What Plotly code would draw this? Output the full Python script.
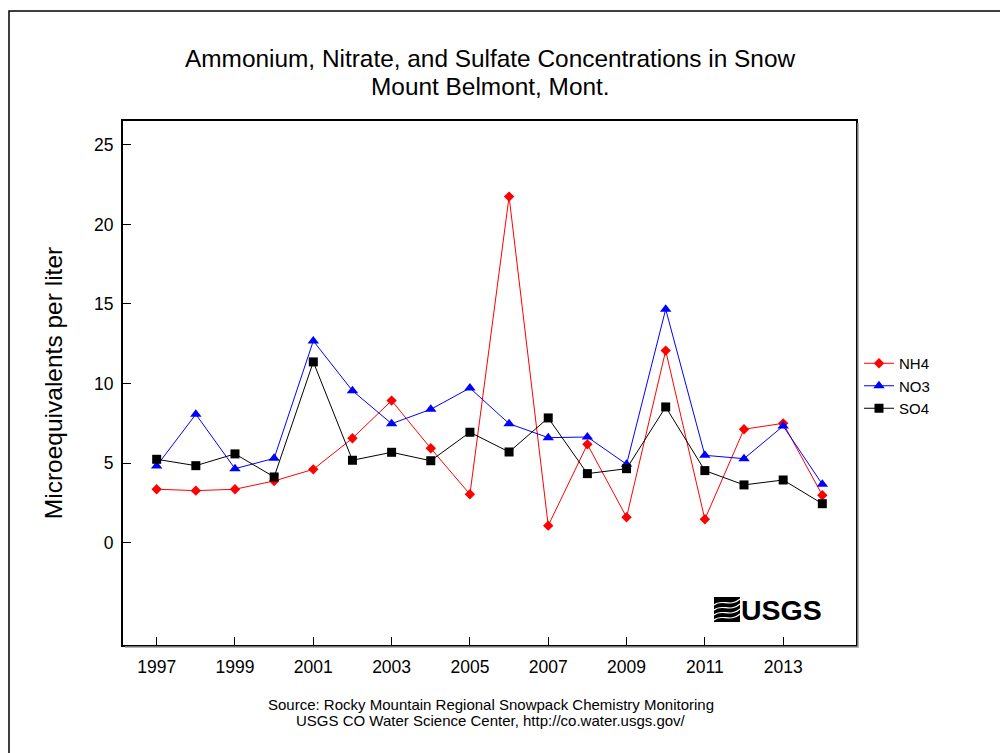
import plotly.graph_objects as go

# Annual snowpack concentrations, microequivalents per liter
years = list(range(1997, 2015))
nh4 = [3.36, 3.27, 3.36, 3.88, 4.61, 6.56, 8.93, 5.93, 3.04, 21.75,
       1.07, 6.18, 1.60, 12.07, 1.47, 7.13, 7.50, 2.98]
no3 = [4.82, 8.07, 4.65, 5.30, 12.68, 9.55, 7.48, 8.38, 9.72, 7.48,
       6.60, 6.64, 4.93, 14.67, 5.49, 5.28, 7.33, 3.67]
so4 = [5.24, 4.84, 5.58, 4.13, 11.36, 5.18, 5.68, 5.15, 6.94, 5.70,
       7.84, 4.34, 4.65, 8.53, 4.53, 3.63, 3.94, 2.45]

x_ticks = list(range(1997, 2015, 2))
y_ticks = [0, 5, 10, 15, 20, 25]

W, H = 1000, 753
L, R, T, B = 123, 856, 121, 645  # plot area in pixels

FONT = "Arial, Liberation Sans, sans-serif"


def px(xp):
    return (xp - L) / (R - L)


def py(yp):
    return (B - yp) / (B - T)


fig = go.Figure()
fig.add_trace(go.Scatter(x=years, y=nh4, name="NH4", mode="lines+markers",
                         line=dict(color="#ff0000", width=1),
                         marker=dict(symbol="diamond", size=8, color="#ff0000")))
fig.add_trace(go.Scatter(x=years, y=no3, name="NO3", mode="lines+markers",
                         line=dict(color="#0000ff", width=1),
                         marker=dict(symbol="triangle-up", size=10, color="#0000ff")))
fig.add_trace(go.Scatter(x=years, y=so4, name="SO4", mode="lines+markers",
                         line=dict(color="#000000", width=1),
                         marker=dict(symbol="square", size=9, color="#000000")))

shapes = []
# outer page frame
shapes.append(dict(type="path", xref="paper", yref="paper",
                   path=f"M {px(9)},{py(760)} L {px(9)},{py(11)} L {px(1010)},{py(11)}",
                   line=dict(color="#000000", width=1.5)))
# soft shadow along the right and bottom edges of the plot box
shapes.append(dict(type="path", xref="paper", yref="paper",
                   path=f"M {px(858)},{py(123)} L {px(858)},{py(647)} L {px(125)},{py(647)}",
                   line=dict(color="#9a9a9a", width=1.5)))

# USGS mark: black block with white flowing lines
ix0, ix1, iy0, iy1 = 714, 740, 597, 622
shapes.append(dict(type="rect", xref="paper", yref="paper",
                   x0=px(ix0), x1=px(ix1), y0=py(iy1), y1=py(iy0),
                   fillcolor="#000000", line=dict(width=0)))
for off in [6, 11, 16, 21]:
    ya = iy0 + off
    path = (f"M {px(ix0)},{py(ya + 2)} "
            f"C {px(ix0 + 8)},{py(ya - 5)} {px(ix0 + 16)},{py(ya + 5)} {px(ix1)},{py(ya - 4)}")
    shapes.append(dict(type="path", xref="paper", yref="paper", path=path,
                       line=dict(color="#ffffff", width=1.1)))


def text_note(text, xp, yp, size, anchor="center", family=FONT):
    return dict(text=text, xref="paper", yref="paper", x=px(xp), y=py(yp),
                xanchor=anchor, yanchor="middle", showarrow=False,
                font=dict(family=family, size=size, color="#000000"))


annotations = [
    text_note("Ammonium, Nitrate, and Sulfate Concentrations in Snow", 490, 58, 24.4),
    text_note("Mount Belmont, Mont.", 490, 87, 24.4),
    text_note("Source: Rocky Mountain Regional Snowpack Chemistry Monitoring", 491, 704, 15),
    text_note("USGS CO Water Science Center, http://co.water.usgs.gov/", 491, 720, 15),
    text_note("<b>USGS</b>", 781, 610, 28.5),
]

fig.update_layout(
    width=W, height=H,
    margin=dict(l=L, r=W - R, t=T, b=H - B, pad=0),
    paper_bgcolor="#ffffff", plot_bgcolor="#ffffff",
    font=dict(family=FONT, size=17, color="#000000"),
    showlegend=True,
    legend=dict(x=px(859), y=py(347), xanchor="left", yanchor="top",
                font=dict(family=FONT, size=15, color="#000000"),
                bgcolor="rgba(0,0,0,0)", borderwidth=0, itemwidth=30,
                tracegroupgap=0),
    shapes=shapes,
    annotations=annotations,
    xaxis=dict(range=[1996.14, 2014.86], tickmode="array", tickvals=x_ticks,
               ticks="inside", ticklen=8, tickwidth=1, tickcolor="#000000",
               showline=True, linecolor="#000000", linewidth=2, mirror=True,
               showgrid=False, zeroline=False, ticklabelstandoff=5,
               tickfont=dict(family=FONT, size=17.5)),
    yaxis=dict(range=[-6.43, 26.5], tickmode="array", tickvals=y_ticks,
               ticks="inside", ticklen=8, tickwidth=1, tickcolor="#000000",
               showline=True, linecolor="#000000", linewidth=2, mirror=True,
               showgrid=False, zeroline=False, ticklabelstandoff=4,
               title=dict(text="Microequivalents per liter", standoff=24,
                          font=dict(family=FONT, size=24.5)),
               tickfont=dict(family=FONT, size=17.5)),
)

fig.write_html("out.html")
